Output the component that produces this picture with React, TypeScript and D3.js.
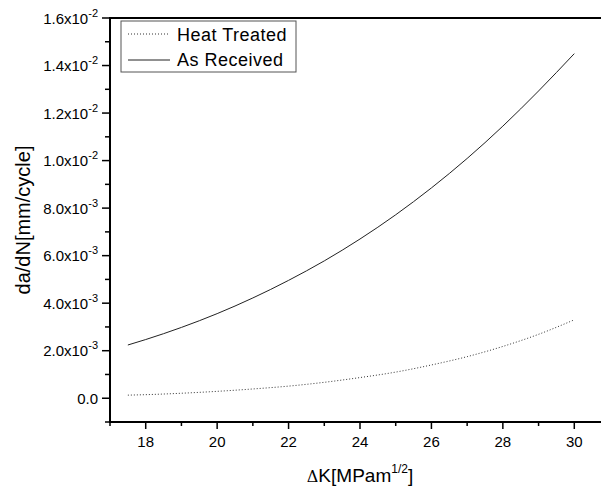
import React, { useRef, useEffect } from 'react';
import * as d3 from 'd3';

// stress intensity range ΔK, MPa·m^1/2
const deltaK = [17.5, 18, 19, 20, 21, 22, 23, 24, 25, 26, 27, 28, 29, 30];
// da/dN, x1e-3 mm/cycle
const asReceived = [2.24, 2.47, 2.98, 3.56, 4.22, 4.96, 5.78, 6.7, 7.72, 8.85, 10.09, 11.45, 12.93, 14.5];
const heatTreated = [0.13, 0.15, 0.21, 0.29, 0.39, 0.51, 0.67, 0.87, 1.1, 1.4, 1.75, 2.18, 2.69, 3.3];

const xMajor = [18, 20, 22, 24, 26, 28, 30];
const yMajor = [0, 2, 4, 6, 8, 10, 12, 14, 16];
const yLabels = ['0.0', '2.0x10|-3', '4.0x10|-3', '6.0x10|-3', '8.0x10|-3', '1.0x10|-2', '1.2x10|-2', '1.4x10|-2', '1.6x10|-2'];

const App = () => {
    const svgRef = useRef(null);

    useEffect(() => {
        const svg = d3.select(svgRef.current);
        svg.selectAll("*").remove();

        const left = 110, top = 18, bottom = 422;
        const font = "Liberation Sans, Arial, sans-serif";

        const x = d3.scaleLinear().domain([17, 31]).range([left, 610]);
        const y = d3.scaleLinear().domain([-1, 16]).range([bottom, top]);

        // series
        const line = d3.line()
            .x(d => x(d[0]))
            .y(d => y(d[1]))
            .curve(d3.curveMonotoneX);

        svg.append("path")
            .attr("d", line(deltaK.map((k, i) => [k, asReceived[i]])))
            .attr("fill", "none")
            .attr("stroke", "#222")
            .attr("stroke-width", 1);

        svg.append("path")
            .attr("d", line(deltaK.map((k, i) => [k, heatTreated[i]])))
            .attr("fill", "none")
            .attr("stroke", "#333")
            .attr("stroke-width", 1)
            .attr("stroke-dasharray", "1,2");

        // axes lines
        svg.append("line").attr("x1", left).attr("x2", 601).attr("y1", top).attr("y2", top)
            .attr("stroke", "black").attr("stroke-width", 2);
        svg.append("line").attr("x1", left).attr("x2", left).attr("y1", top - 1).attr("y2", bottom + 1)
            .attr("stroke", "black").attr("stroke-width", 2);
        svg.append("line").attr("x1", left - 1).attr("x2", 601).attr("y1", bottom).attr("y2", bottom)
            .attr("stroke", "black").attr("stroke-width", 2);

        // y ticks
        d3.range(-1, 17).forEach(v => {
            const major = v % 2 === 0;
            svg.append("line")
                .attr("x1", left).attr("x2", left - (major ? 8 : 5))
                .attr("y1", y(v)).attr("y2", y(v))
                .attr("stroke", "black").attr("stroke-width", 1.5);
        });
        yMajor.forEach((v, i) => {
            const [base, sup] = yLabels[i].split('|');
            const t = svg.append("text")
                .attr("x", left - 12)
                .attr("y", y(v) + 5.5)
                .attr("text-anchor", "end")
                .attr("font-family", font)
                .attr("font-size", "15px")
                .attr("fill", "black");
            t.append("tspan").text(base);
            if (sup) {
                t.append("tspan").attr("dy", -7).attr("font-size", "11px").text(sup);
            }
        });

        // x ticks
        d3.range(17, 31).forEach(v => {
            const major = v % 2 === 0;
            svg.append("line")
                .attr("x1", x(v)).attr("x2", x(v))
                .attr("y1", bottom).attr("y2", bottom + (major ? 7 : 4))
                .attr("stroke", "black").attr("stroke-width", 1.5);
        });
        xMajor.forEach(v => {
            svg.append("text")
                .attr("x", x(v))
                .attr("y", 447)
                .attr("text-anchor", "middle")
                .attr("font-family", font)
                .attr("font-size", "15px")
                .attr("fill", "black")
                .text(v);
        });

        // axis titles
        const xt = svg.append("text")
            .attr("x", 360)
            .attr("y", 482)
            .attr("text-anchor", "middle")
            .attr("font-family", font)
            .attr("font-size", "19px")
            .attr("fill", "black");
        xt.append("tspan").attr("font-family", "DejaVu Serif, serif").attr("font-size", "16px").text("Δ");
        xt.append("tspan").text("K[MPam");
        xt.append("tspan").attr("dy", -9).attr("font-size", "12px").text("1/2");
        xt.append("tspan").attr("dy", 9).text("]");

        svg.append("text")
            .attr("transform", "translate(30, 220) rotate(-90)")
            .attr("text-anchor", "middle")
            .attr("font-family", font)
            .attr("font-size", "20px")
            .attr("fill", "black")
            .text("da/dN[mm/cycle]");

        // legend
        svg.append("rect")
            .attr("x", 121).attr("y", 21)
            .attr("width", 175).attr("height", 51)
            .attr("fill", "white")
            .attr("stroke", "#555")
            .attr("stroke-width", 1);
        svg.append("line")
            .attr("x1", 128).attr("x2", 170).attr("y1", 34).attr("y2", 34)
            .attr("stroke", "#333").attr("stroke-width", 1).attr("stroke-dasharray", "1,2");
        svg.append("line")
            .attr("x1", 128).attr("x2", 170).attr("y1", 60).attr("y2", 60)
            .attr("stroke", "#222").attr("stroke-width", 1);
        svg.append("text")
            .attr("x", 177).attr("y", 41)
            .attr("font-family", font).attr("font-size", "18px").attr("letter-spacing", "0.5px").attr("fill", "black")
            .text("Heat Treated");
        svg.append("text")
            .attr("x", 177).attr("y", 66)
            .attr("font-family", font).attr("font-size", "18px").attr("letter-spacing", "0.5px").attr("fill", "black")
            .text("As Received");
    }, []);

    return (
        <svg ref={svgRef} width={601} height={490}
            style={{ position: 'absolute', left: 0, top: 0, background: 'white' }}></svg>
    );
};

export default App;
